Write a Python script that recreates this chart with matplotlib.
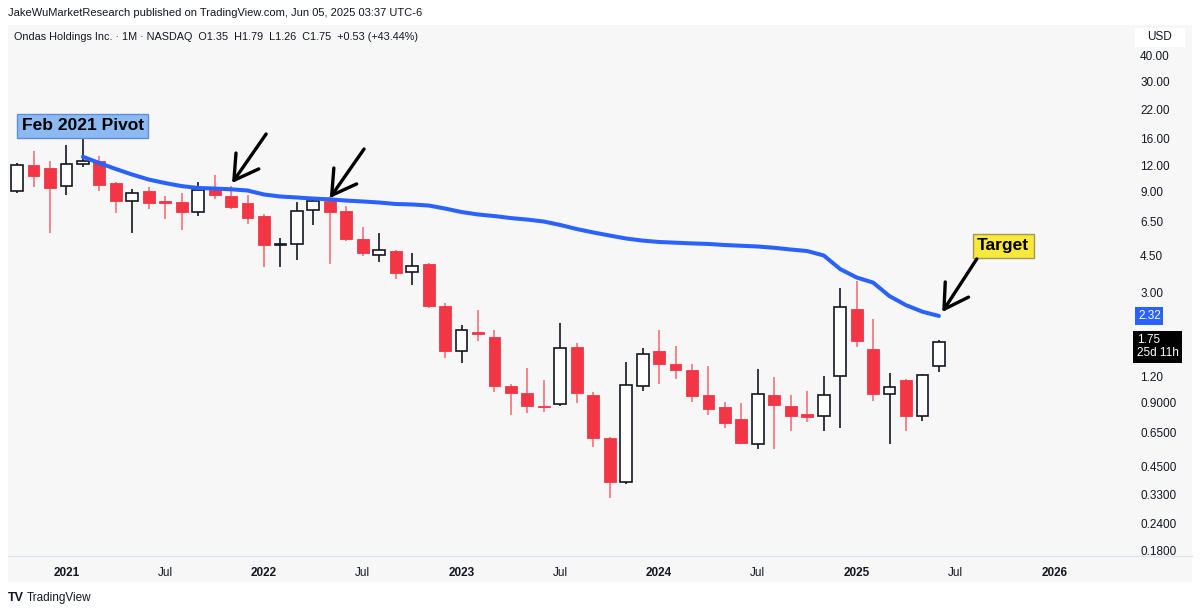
import matplotlib.pyplot as plt
import matplotlib.patches as patches
import matplotlib.transforms as mtransforms
import pandas as pd

plt.rcParams['font.family'] = ['Liberation Sans', 'DejaVu Sans']

# monthly candles, Oct 2020 .. Jun 2025
months = pd.period_range('2020-10', '2025-06', freq='M')
opens = [9.07, 12.04, 11.66, 9.57, 12.21, 12.62, 9.93, 8.10, 9.07, 8.09, 8.04, 7.23,
         9.14, 8.59, 7.93, 6.88, 5.05, 5.10, 7.37, 8.16, 7.31, 5.37, 4.51, 4.71,
         3.75, 4.07, 2.60, 1.59, 1.94, 1.85, 1.08, 1.00, 0.864, 0.884, 1.65, 0.98,
         0.61, 0.38, 1.083, 1.58, 1.38, 1.29, 0.98, 0.861, 0.751, 0.573, 0.98, 0.87,
         0.798, 0.78, 1.21, 2.50, 1.61, 0.995, 1.15, 0.78, 1.35]
highs = [12.3, 14.03, 12.58, 14.98, 16.0, 13.28, 10.0, 9.24, 9.50, 8.59, 8.84, 10.03,
         10.76, 9.57, 8.68, 7.05, 5.41, 8.04, 8.28, 8.59, 7.72, 6.10, 5.71, 4.79,
         4.62, 4.15, 2.66, 2.10, 2.47, 1.99, 1.10, 1.31, 1.15, 2.15, 1.72, 1.01,
         0.621, 1.40, 1.63, 1.99, 1.67, 1.38, 1.34, 0.91, 0.90, 1.30, 1.19, 0.98,
         1.02, 1.20, 3.15, 3.40, 2.24, 1.25, 1.16, 1.23, 1.79]
lows = [8.9, 9.47, 5.73, 8.68, 11.79, 9.04, 7.15, 5.75, 7.47, 6.70, 5.92, 6.90,
        8.28, 7.42, 6.30, 3.94, 3.94, 4.27, 6.26, 4.07, 5.27, 4.48, 4.19, 3.47,
        3.24, 2.54, 1.47, 1.39, 1.76, 1.01, 0.784, 0.804, 0.810, 0.87, 0.894, 0.557,
        0.317, 0.372, 1.02, 1.11, 1.17, 0.910, 0.787, 0.685, 0.58, 0.541, 0.541, 0.663,
        0.726, 0.66, 0.683, 1.65, 0.92, 0.573, 0.66, 0.735, 1.26]
closes = [12.04, 10.68, 9.37, 12.17, 12.54, 9.71, 8.10, 8.90, 7.98, 8.00, 7.21, 9.17,
          8.65, 7.64, 6.73, 5.01, 5.09, 7.31, 8.16, 7.23, 5.39, 4.60, 4.75, 3.72,
          4.00, 2.59, 1.59, 1.98, 1.90, 1.08, 1.00, 0.868, 0.855, 1.63, 1.00, 0.612,
          0.380, 1.095, 1.53, 1.37, 1.28, 0.971, 0.840, 0.723, 0.582, 0.986, 0.877, 0.776,
          0.77, 0.98, 2.57, 1.76, 0.986, 1.07, 0.778, 1.22, 1.75]

# anchored VWAP from the Feb 2021 pivot
vwap_start = 4
vwap = [13.18, 12.31, 11.53, 10.85, 10.28, 9.89, 9.57, 9.37, 9.32, 9.24, 9.12, 8.73,
        8.54, 8.45, 8.35, 8.28, 8.17, 8.09, 8.00, 7.87, 7.83, 7.74, 7.49, 7.21,
        7.02, 6.90, 6.75, 6.64, 6.50, 6.26, 5.99, 5.77, 5.58, 5.40, 5.28, 5.20,
        5.16, 5.12, 5.09, 5.03, 4.99, 4.95, 4.88, 4.79, 4.71, 4.49, 3.87, 3.53,
        3.34, 2.88, 2.61, 2.43, 2.32]

price_ticks = [40, 30, 22, 16, 12, 9, 6.5, 4.5, 3, 2.2, 1.2, 0.9, 0.65, 0.45, 0.33, 0.24, 0.18]
price_labels = ['40.00', '30.00', '22.00', '16.00', '12.00', '9.00', '6.50', '4.50', '3.00',
                '2.20', '1.20', '0.9000', '0.6500', '0.4500', '0.3300', '0.2400', '0.1800']

W, H = 1200, 612
RED = '#f23645'
RED_WICK = '#f5707b'
DARK = '#131722'
BLUE = '#2962ff'
BG = '#f7f7f7'

fig = plt.figure(figsize=(W / 100, H / 100), dpi=100)
fig.patch.set_facecolor('white')

def fx(px):
    return px / W

def fy(py):
    return 1 - py / H

# grey chart panel and time-axis separator
fig.patches.append(patches.Rectangle((fx(8), fy(582)), fx(1184), 557 / H,
                                     transform=fig.transFigure, facecolor=BG,
                                     edgecolor='none', zorder=-5))
fig.add_artist(plt.Line2D([fx(8), fx(1192)], [fy(556), fy(556)],
                          transform=fig.transFigure, color='#e0e3eb', lw=1, zorder=-4))
fig.patches.append(patches.Rectangle((fx(1135), fy(47)), fx(50), 19 / H,
                                     transform=fig.transFigure, facecolor='white',
                                     edgecolor='none', zorder=-4))

ax = fig.add_axes([fx(8), fy(556), fx(1112), 531 / H])
ax.set_zorder(2)
ax.set_facecolor('none')
for s in ax.spines.values():
    s.set_visible(False)

idx = list(range(len(months)))
bw = 0.72
for i, o, h, l, c in zip(idx, opens, highs, lows, closes):
    up = c >= o
    wick_col = DARK if up else RED_WICK
    ax.vlines(i, l, h, color=wick_col, lw=1.2, zorder=2)
    lo, hi = min(o, c), max(o, c)
    if up:
        ax.bar(i, hi - lo, bottom=lo, width=bw, facecolor='white',
               edgecolor=DARK, lw=1.2, zorder=3)
    else:
        ax.bar(i, hi - lo, bottom=lo, width=bw, facecolor=RED,
               edgecolor=RED, lw=0.6, zorder=3)

ax.plot(idx[vwap_start:], vwap, color=BLUE, lw=2.9, solid_capstyle='round', zorder=4)

ax.set_yscale('log')
ax.set_ylim(0.169, 55.5)
ax.set_xlim(-0.55, 67.0)
ax.yaxis.tick_right()
ax.set_yticks(price_ticks)
ax.set_yticklabels(price_labels)
ax.minorticks_off()
ax.tick_params(axis='y', length=0, pad=14.5, labelsize=8.5, labelcolor=DARK)

# time axis: Jan and Jul of every year
axis_months = pd.period_range('2020-10', '2026-06', freq='M')
tick_pos = [k for k, m in enumerate(axis_months) if m.month in (1, 7)]
tick_lab = [str(m.year) if m.month == 1 else 'Jul' for m in axis_months if m.month in (1, 7)]
ax.set_xticks(tick_pos)
ax.set_xticklabels(tick_lab)
ax.tick_params(axis='x', length=0, pad=8, labelsize=8.5, labelcolor=DARK)
for t in ax.get_xticklabels():
    if t.get_text() != 'Jul':
        t.set_fontweight('bold')

# annotations
ax.text(vwap_start - 0.02, 18.5, 'Feb 2021 Pivot', ha='center', va='center',
        fontsize=12.5, fontweight='bold', color='black', zorder=6,
        bbox=dict(boxstyle='square,pad=0.25', facecolor='#8cb9f2', edgecolor='#5f8fd6', lw=1))
ax.text(59.9, 4.98, 'Target', ha='center', va='center',
        fontsize=12.5, fontweight='bold', color='black', zorder=6,
        bbox=dict(boxstyle='square,pad=0.25', facecolor='#f7e839', edgecolor='#a09a55', lw=1))

arrows = [((13.06, 9.89), (15.13, 16.89)),
          ((19.0, 8.40), (21.08, 14.34)),
          ((56.2, 2.42), (58.3, 4.32))]
for tip, tail in arrows:
    ax.annotate('', xy=tip, xytext=tail, zorder=7,
                arrowprops=dict(arrowstyle='->,head_length=0.85,head_width=0.5',
                                mutation_scale=20, lw=2.4, color='black',
                                shrinkA=0, shrinkB=0))

# price-scale labels
blend = mtransforms.blended_transform_factory(ax.transAxes, ax.transData)
ax.text((1138 - 8) / 1112, vwap[-1], f'{vwap[-1]:.2f}', transform=blend, ha='left', va='center',
        fontsize=8.5, color='white', zorder=10, clip_on=False,
        bbox=dict(boxstyle='square,pad=0.22', facecolor=BLUE, edgecolor='none'))
ax.annotate(f'{closes[-1]:.2f}\n25d 11h', xy=((1137 - 8) / 1112, closes[-1]), xycoords=blend,
            xytext=(0, 5.5), textcoords='offset points', ha='left', va='top',
            fontsize=8.5, color='white', zorder=10, linespacing=1.15, annotation_clip=False,
            bbox=dict(boxstyle='square,pad=0.3', facecolor='black', edgecolor='none'))

# header / footer texts
fig.text(fx(1160), fy(37.5), 'USD', ha='center', va='center', fontsize=8.5, color=DARK)
fig.text(fx(8), fy(13), 'JakeWuMarketResearch published on TradingView.com, Jun 05, 2025 03:37 UTC-6',
         ha='left', va='center', fontsize=8.0, color=DARK)
fig.text(fx(14), fy(37), 'Ondas Holdings Inc. \u00b7 1M \u00b7 NASDAQ  O1.35  H1.79  L1.26  C1.75  +0.53 (+43.44%)',
         ha='left', va='center', fontsize=7.8, color=DARK)
fig.text(fx(8), fy(598), 'TV', ha='left', va='center', fontsize=9, fontweight='bold', color=DARK)
fig.text(fx(27), fy(598), 'TradingView', ha='left', va='center', fontsize=8.5, color=DARK)

fig.savefig('out.png', dpi=100, facecolor=fig.get_facecolor())
